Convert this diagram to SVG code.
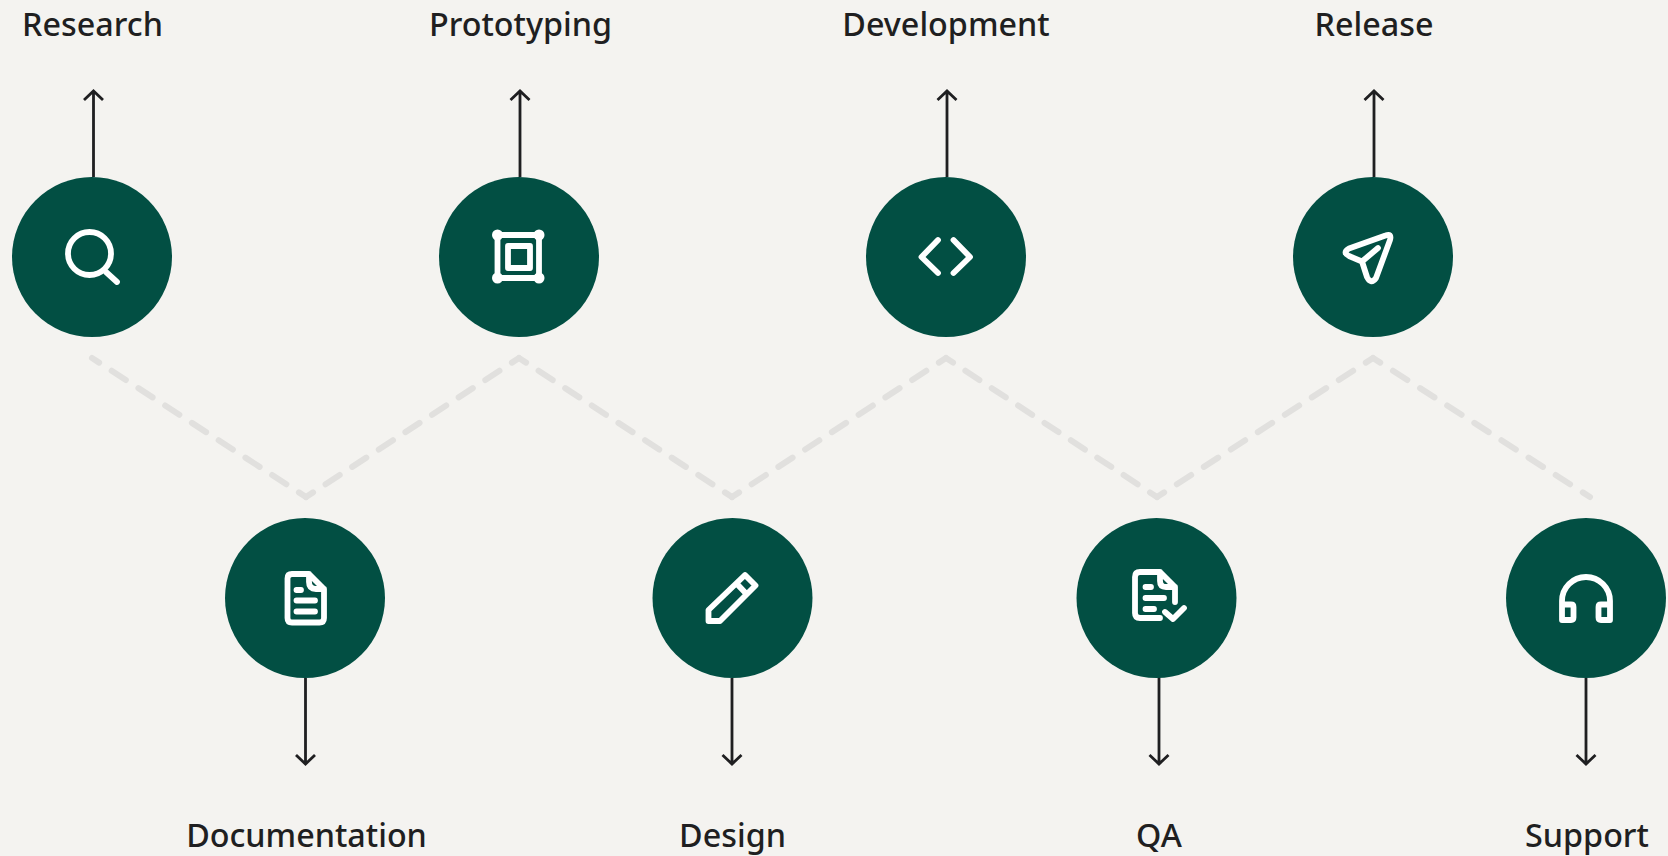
<svg xmlns="http://www.w3.org/2000/svg" width="1668" height="856" viewBox="0 0 1668 856">
<defs><style>
.c{fill:#024f43}
.i{fill:none;stroke:#fff;stroke-width:5.800;stroke-linecap:round;stroke-linejoin:round}
.t{font-family:"Noto Sans","Open Sans",sans-serif;font-size:32.300px;font-weight:500;fill:#1f1f21;text-anchor:middle}
.a{fill:none;stroke:#1f1f21;stroke-width:2.800}
.d{fill:none;stroke:#e1e0de;stroke-width:6;stroke-linecap:round;stroke-linejoin:miter;stroke-dasharray:17 15;stroke-dashoffset:8.500}
</style></defs>
<rect width="1668" height="856" fill="#f4f3f0"/>
<g id="connectors">
<path class="d" pathLength="256" d="M92 358L306 497"/>
<path class="d" pathLength="256" d="M306 497L519 358"/>
<path class="d" pathLength="256" d="M519 358L732 497"/>
<path class="d" pathLength="256" d="M732 497L946 358"/>
<path class="d" pathLength="256" d="M946 358L1157 497"/>
<path class="d" pathLength="256" d="M1157 497L1373 358"/>
<path class="d" pathLength="256" d="M1373 358L1590 497"/>
<path class="a" d="M93.500 177V92M84 100L93.500 91L103 100"/>
<path class="a" d="M520 177V92M510.500 100L520 91L529.500 100"/>
<path class="a" d="M947 177V92M937.500 100L947 91L956.500 100"/>
<path class="a" d="M1374 177V92M1364.500 100L1374 91L1383.500 100"/>
<path class="a" d="M305.500 678V763M296 755L305.500 764L315 755"/>
<path class="a" d="M732 678V763M722.500 755L732 764L741.500 755"/>
<path class="a" d="M1159 675V763M1149.500 755L1159 764L1168.500 755"/>
<path class="a" d="M1586 678V763M1576.500 755L1586 764L1595.500 755"/>
</g>
<g id="research"><circle class="c" cx="92" cy="257" r="80"/><circle class="i" cx="89.500" cy="253.500" r="21.500"/><path class="i" d="M106 272L117 282"/><text class="t" x="92.500" y="35.500">Research</text></g>
<g id="prototyping"><circle class="c" cx="519" cy="257" r="80"/><path class="i" d="M497.500 235H539V278H497.500Z"/><rect class="i" x="508" y="246" width="22" height="22"/><g fill="#fff"><circle cx="497.500" cy="235" r="5.500"/><circle cx="539" cy="235" r="5.500"/><circle cx="497.500" cy="278" r="5.500"/><circle cx="539" cy="278" r="5.500"/></g><text class="t" x="520.500" y="35.500">Prototyping</text></g>
<g id="development"><circle class="c" cx="946" cy="257" r="80"/><path class="i" d="M938 240L921.500 257L938 273M953.500 240L970 257L953.500 273"/><text class="t" x="946" y="35.500">Development</text></g>
<g id="release"><circle class="c" cx="1373" cy="257" r="80"/><path class="i" d="M1385.500 235.500L1349 248.500Q1342 252.500 1349 256L1362 261.500L1367 277Q1371 285 1376 278L1390 240Q1392 233 1385.500 235.500ZM1362 261.500L1378 248"/><text class="t" x="1374" y="35.500">Release</text></g>
<g id="documentation"><circle class="c" cx="305" cy="598" r="80"/><path class="i" d="M292 574H309L324 589V618Q324 622.500 319.500 622.500H292Q287.500 622.500 287.500 618V578.500Q287.500 574 292 574ZM309 574V582Q309 589 316 589H324M296.500 590H301M296.500 600.500H315M296.500 611.500H315"/><text class="t" x="306.500" y="846.500">Documentation</text></g>
<g id="design"><circle class="c" cx="732.500" cy="598" r="80"/><path class="i" d="M745 575L755.500 585.500L720 621H708.500V610ZM737 584L746.500 594"/><text class="t" x="732.500" y="846.500">Design</text></g>
<g id="qa"><circle class="c" cx="1156.500" cy="598" r="80"/><path class="i" d="M1175 602V587L1160 572H1140Q1135 572 1135 577V613Q1135 618 1140 618H1160M1160 572V581Q1160 587 1166 587H1175M1145.500 587H1151M1145.500 598H1164M1145.500 609H1154M1165 612L1173 619L1184 608"/><text class="t" x="1159" y="846.500">QA</text></g>
<g id="support"><circle class="c" cx="1586" cy="598" r="80"/><path class="i" d="M1562 620V601A24 24 0 0 1 1610 601V620H1601Q1598.500 620 1598.500 617.500V607Q1598.500 604.500 1601 604.500H1610M1562 604.500H1571Q1573.500 604.500 1573.500 607V617.500Q1573.500 620 1571 620H1562"/><text class="t" x="1587" y="846.500">Support</text></g>
</svg>
